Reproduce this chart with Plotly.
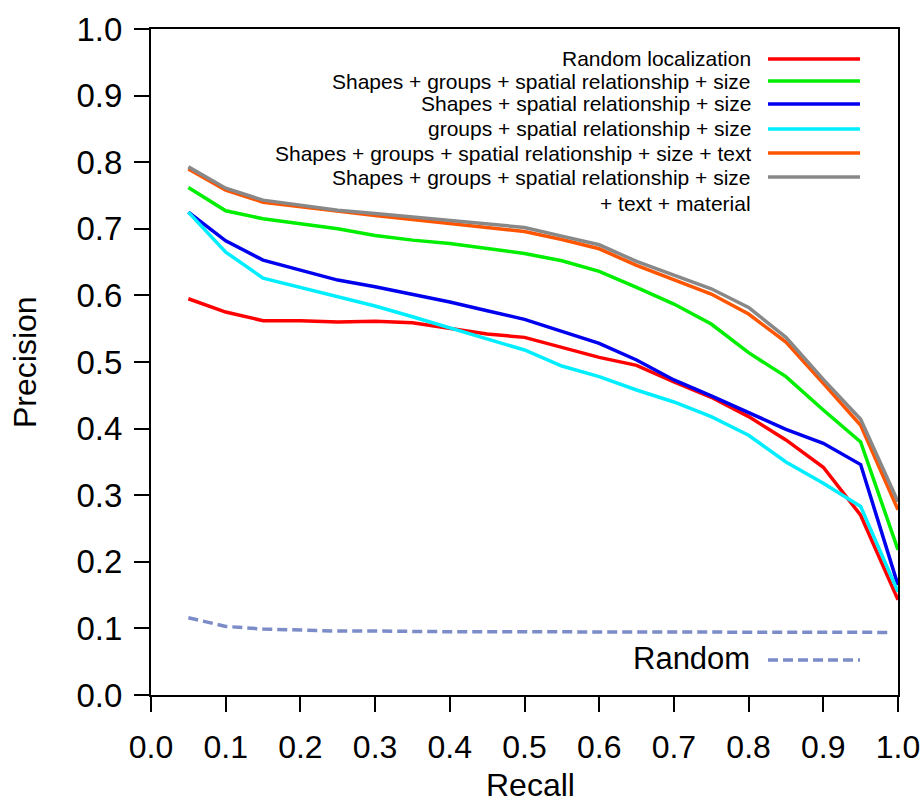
import plotly.graph_objects as go

recall = [0.05, 0.10, 0.15, 0.20, 0.25, 0.30, 0.35, 0.40, 0.45, 0.50,
          0.55, 0.60, 0.65, 0.70, 0.75, 0.80, 0.85, 0.90, 0.95, 1.00]

random_localization = [0.595, 0.575, 0.562, 0.562, 0.560, 0.561, 0.559, 0.550, 0.542, 0.537,
                       0.522, 0.507, 0.495, 0.470, 0.447, 0.418, 0.383, 0.342, 0.270, 0.143]
shapes_groups = [0.762, 0.727, 0.715, 0.708, 0.700, 0.690, 0.683, 0.678, 0.670, 0.663,
                 0.652, 0.636, 0.612, 0.587, 0.557, 0.514, 0.478, 0.428, 0.380, 0.218]
shapes_only = [0.725, 0.682, 0.653, 0.638, 0.623, 0.613, 0.602, 0.590, 0.577, 0.564,
               0.546, 0.528, 0.503, 0.473, 0.449, 0.424, 0.399, 0.378, 0.346, 0.165]
groups_only = [0.725, 0.665, 0.626, 0.612, 0.597, 0.584, 0.568, 0.551, 0.534, 0.518,
               0.494, 0.478, 0.458, 0.440, 0.418, 0.390, 0.350, 0.318, 0.283, 0.155]
with_text = [0.790, 0.758, 0.740, 0.733, 0.726, 0.720, 0.714, 0.708, 0.703, 0.696,
             0.684, 0.670, 0.645, 0.624, 0.602, 0.572, 0.530, 0.468, 0.405, 0.278]
with_material = [0.793, 0.761, 0.743, 0.736, 0.728, 0.723, 0.718, 0.712, 0.707, 0.702,
                 0.689, 0.676, 0.651, 0.631, 0.610, 0.582, 0.537, 0.474, 0.414, 0.290]

random_recall = [0.05, 0.10, 0.15, 0.20, 0.25, 0.30, 0.35, 0.40, 0.45, 0.50,
                 0.55, 0.60, 0.65, 0.70, 0.75, 0.80, 0.85, 0.90, 0.95, 0.99]
random_baseline = [0.116, 0.103, 0.099, 0.097, 0.096, 0.096, 0.095, 0.095, 0.095, 0.095,
                   0.094, 0.094, 0.094, 0.094, 0.094, 0.094, 0.094, 0.094, 0.094, 0.094]

series = [
    ("Random localization", random_localization, "#ff0000"),
    ("Shapes + groups + spatial relationship + size", shapes_groups, "#00ee00"),
    ("Shapes + spatial relationship + size", shapes_only, "#0000ee"),
    ("groups + spatial relationship + size", groups_only, "#00eeff"),
    ("Shapes + groups + spatial relationship + size + text", with_text, "#ff5500"),
    ("Shapes + groups + spatial relationship + size<br>+ text + material", with_material, "#888888"),
]
tick_vals = [0.0, 0.1, 0.2, 0.3, 0.4, 0.5, 0.6, 0.7, 0.8, 0.9, 1.0]
tick_text = ["0.0", "0.1", "0.2", "0.3", "0.4", "0.5", "0.6", "0.7", "0.8", "0.9", "1.0"]

FONT = "Liberation Sans, Arial, sans-serif"

fig = go.Figure()
fig.add_trace(go.Scatter(x=random_recall, y=random_baseline, mode="lines",
                         line=dict(color="#7b8cc8", width=3.5, dash="10px,5px"),
                         name="Random", showlegend=False))
for name, vals, color in series:
    fig.add_trace(go.Scatter(x=recall, y=vals, mode="lines",
                             line=dict(color=color, width=3.5),
                             name=name, showlegend=False))

# manual legend (right-aligned text, sample line to the right)
L, R, T, B = 151, 898, 29, 695
def px(x):
    return (x - L) / (R - L)
def py(y):
    return (B - y) / (B - T)

text_x = px(752)
line_x0, line_x1 = px(768), px(860)
rows = [59, 81, 104, 129, 153, 177]
annotations = []
shapes = []
LEG = 21
for (name, vals, color), ry in zip(series, rows):
    parts = name.split("<br>")
    for k, part in enumerate(parts):
        annotations.append(dict(x=text_x, y=py(ry + 26 * k), xref="paper", yref="paper", text=part,
                                showarrow=False, xanchor="right", yanchor="middle",
                                height=25, borderpad=0,
                                font=dict(family=FONT, size=LEG, color="black")))
    shapes.append(dict(type="line", xref="paper", yref="paper", x0=line_x0, x1=line_x1,
                       y0=py(ry), y1=py(ry), line=dict(color=color, width=3.5)))

annotations.append(dict(x=text_x, y=py(658), xref="paper", yref="paper", text="Random",
                        showarrow=False, xanchor="right", yanchor="middle",
                        font=dict(family=FONT, size=31, color="black")))
shapes.append(dict(type="line", xref="paper", yref="paper", x0=line_x0, x1=line_x1,
                   y0=py(660), y1=py(660), line=dict(color="#7b8cc8", width=3.5, dash="10px,5px")))

# axis titles
annotations.append(dict(x=px(530), y=py(785), xref="paper", yref="paper", text="Recall",
                        showarrow=False, xanchor="center", yanchor="middle",
                        font=dict(family=FONT, size=32, color="black")))
annotations.append(dict(x=px(25), y=py(362), xref="paper", yref="paper", text="Precision",
                        showarrow=False, xanchor="center", yanchor="middle", textangle=-90,
                        font=dict(family=FONT, size=32, color="black")))

axis_common = dict(range=[0, 1], showgrid=False, zeroline=False, showline=True,
                   linecolor="black", linewidth=2, mirror=True, ticks="outside",
                   ticklen=15, tickwidth=2, tickcolor="black",
                   tickvals=tick_vals, ticktext=tick_text, automargin=False)

fig.update_layout(
    width=922, height=802,
    margin=dict(l=L, r=922 - R, t=T, b=802 - B),
    plot_bgcolor="white", paper_bgcolor="white",
    xaxis=dict(**axis_common, tickfont=dict(family=FONT, size=32, color="black"),
               ticklabelstandoff=8),
    yaxis=dict(**axis_common, tickfont=dict(family=FONT, size=33, color="black"),
               ticklabelstandoff=5),
    annotations=annotations,
    shapes=shapes,
    showlegend=False,
)

fig.write_html("out.html")
